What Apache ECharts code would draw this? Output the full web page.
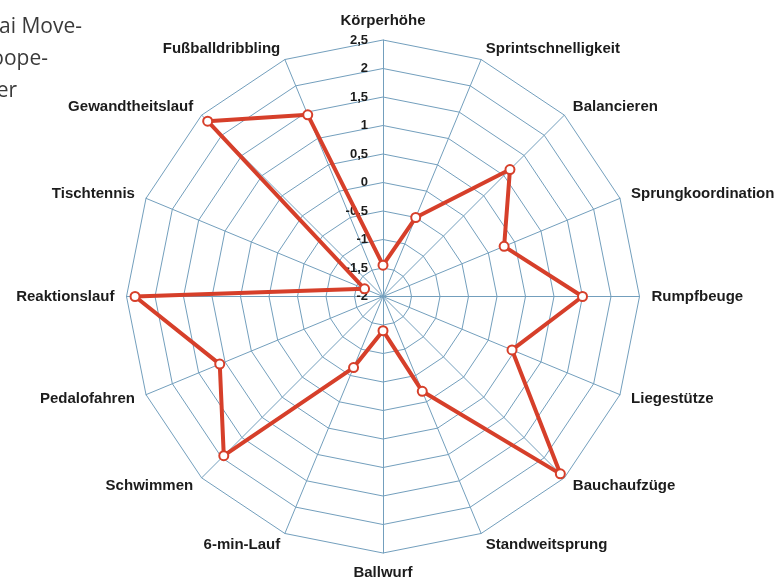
<!DOCTYPE html>
<html>
<head>
<meta charset="utf-8">
<script src="https://cdn.jsdelivr.net/npm/echarts@6/dist/echarts.min.js"></script>
<style>
  html, body { margin: 0; padding: 0; background: #ffffff; }
  #chart { width: 777px; height: 583px; }
</style>
</head>
<body>
<div id="chart"></div>
<script>
// Motor test profile: one value per test item (clockwise from the top), scale from -2 to 2.5
const categories = [
  'Körperhöhe', 'Sprintschnelligkeit', 'Balancieren', 'Sprungkoordination',
  'Rumpfbeuge', 'Liegestütze', 'Bauchaufzüge', 'Standweitsprung',
  'Ballwurf', '6-min-Lauf', 'Schwimmen', 'Pedalofahren',
  'Reaktionslauf', 'Tischtennis', 'Gewandtheitslauf', 'Fußballdribbling'
];
const profileValues = [
  -1.45, -0.5, 1.15, 0.3,
  1.5, 0.45, 2.4, -0.2,
  -1.4, -0.65, 1.95, 1.1,
  2.35, -1.65, 2.35, 1.45
];
const scaleMin = -2;
const scaleMax = 2.5;
const scaleStep = 0.5;
// Fragments of the surrounding page text (cut at the left edge)
const sideTextLines = ['ai Move-', 'oope-', 'er'];

const cx = 383, cy = 296.5, R = 256.5;
const gridColor = '#739fbd';
const lineColor = '#d63f2a';

// ECharts lays radar indicators out counter-clockwise; keep the first one on top
// and reverse the rest so the items run clockwise.
const clockwise = arr => [arr[0]].concat(arr.slice(1).reverse());
const orderedNames = clockwise(categories);
const orderedValues = clockwise(profileValues);

const chart = echarts.init(document.getElementById('chart'), null, { renderer: 'canvas' });

chart.setOption({
  backgroundColor: '#ffffff',
  animation: false,
  graphic: sideTextLines.map((t, i) => ({
    type: 'text',
    right: [695, 729, 760][i],
    top: 17 + i * 32,
    style: {
      text: t,
      font: '21px "Open Sans"',
      fill: '#3a3a3a'
    }
  })),
  radar: {
    center: [cx, cy],
    radius: R,
    startAngle: 90,
    shape: 'polygon',
    splitNumber: Math.round((scaleMax - scaleMin) / scaleStep),
    nameGap: 12,
    axisName: {
      color: '#1c1c1c',
      fontFamily: 'Liberation Sans',
      fontSize: 15,
      fontWeight: 'bold'
    },
    indicator: orderedNames.map(name => ({ name, min: scaleMin, max: scaleMax })),
    axisLine: { lineStyle: { color: gridColor, width: 1 } },
    splitLine: { lineStyle: { color: gridColor, width: 1 } },
    splitArea: { show: false },
    axisTick: { show: false },
    axisLabel: { show: false }
  },
  // Scale labels along the upward axis
  grid: { left: cx, top: cy - R, height: R, width: 1 },
  xAxis: { type: 'value', show: false },
  yAxis: {
    type: 'value',
    min: scaleMin,
    max: scaleMax,
    interval: scaleStep,
    axisLine: { show: false },
    axisTick: { show: false },
    splitLine: { show: false },
    axisLabel: {
      margin: 15,
      fontFamily: 'Liberation Sans',
      fontSize: 13,
      fontWeight: 'bold',
      color: '#1c1c1c',
      formatter: v => String(v).replace('.', ',')
    }
  },
  series: [{
    type: 'radar',
    symbol: 'emptyCircle',
    symbolSize: 9,
    lineStyle: { color: lineColor, width: 4 },
    itemStyle: { color: lineColor, borderColor: lineColor, borderWidth: 3 },
    data: [{ value: orderedValues, name: 'Profil' }]
  }]
});
</script>
</body>
</html>
